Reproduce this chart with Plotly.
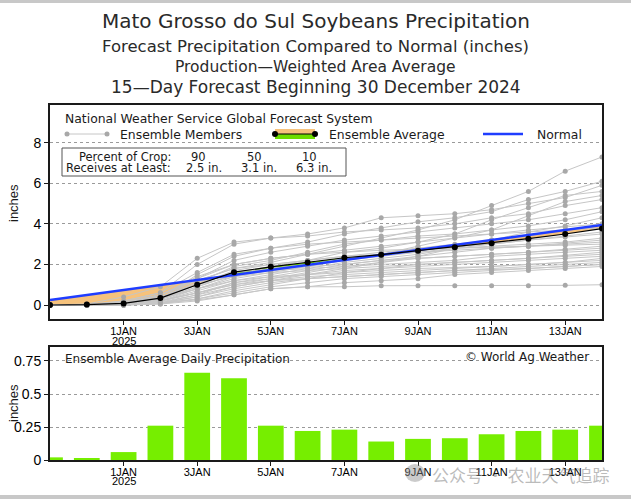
import plotly.graph_objects as go

W, H = 631, 499

# ---------------- data ----------------
day_index = list(range(16))  # 30 Dec 2024 .. 14 Jan 2025
tick_index = [2, 4, 6, 8, 10, 12, 14]
tick_labels = ["1JAN", "3JAN", "5JAN", "7JAN", "9JAN", "11JAN", "13JAN"]
year_label = "2025"

ens_avg = [0.0, 0.02, 0.08, 0.34, 1.0, 1.62, 1.88, 2.1, 2.33, 2.48, 2.68, 2.85, 3.05, 3.27, 3.5, 3.77]
normal = [0.25, 0.50, 0.74, 0.99, 1.23, 1.48, 1.73, 1.97, 2.22, 2.46, 2.71, 2.96, 3.20, 3.45, 3.69, 3.94]
daily = [0.02, 0.01, 0.06, 0.26, 0.66, 0.62, 0.26, 0.22, 0.23, 0.14, 0.16, 0.165, 0.195, 0.22, 0.23, 0.26]

members = [
    [0, 0, 0.1, 0.5, 1.2, 1.8, 2.1, 2.5, 2.9, 3.3, 3.7, 4.2, 4.9, 5.6, 6.6, 7.3],
    [0, 0, 0.05, 0.3, 1.5, 2.4, 2.8, 3.1, 3.5, 3.8, 4.1, 4.3, 4.6, 5.2, 5.6, 6.1],
    [0, 0.02, 0.2, 0.6, 2.0, 3.0, 3.3, 3.5, 3.8, 4.3, 4.4, 4.5, 4.7, 5.0, 5.3, 5.9],
    [0, 0, 0.1, 0.4, 1.0, 1.7, 2.0, 2.2, 2.6, 2.8, 3.1, 3.5, 4.2, 4.8, 5.4, 5.6],
    [0, 0, 0.0, 0.2, 0.8, 1.3, 1.6, 1.9, 2.2, 2.5, 2.9, 3.3, 3.7, 4.4, 5.1, 5.4],
    [0, 0.05, 0.4, 0.9, 2.3, 3.1, 3.3, 3.4, 3.6, 3.7, 3.8, 4.0, 4.3, 4.5, 4.9, 5.2],
    [0, 0, 0.05, 0.3, 1.3, 2.2, 2.6, 2.9, 3.2, 3.4, 3.6, 3.8, 4.0, 4.2, 4.5, 4.8],
    [0, 0, 0.1, 0.35, 1.1, 1.9, 2.2, 2.6, 3.0, 3.2, 3.4, 3.5, 3.7, 3.9, 4.2, 4.6],
    [0, 0, 0.0, 0.1, 0.4, 0.9, 1.2, 1.5, 1.8, 2.1, 2.4, 2.8, 3.2, 3.6, 3.9, 4.3],
    [0, 0, 0.05, 0.5, 1.4, 2.0, 2.3, 2.5, 2.7, 2.9, 3.1, 3.3, 3.5, 3.7, 3.85, 4.0],
    [0, 0, 0.1, 0.3, 0.9, 1.5, 1.8, 2.0, 2.3, 2.5, 2.8, 3.0, 3.2, 3.4, 3.7, 3.9],
    [0, 0.02, 0.2, 0.6, 1.6, 2.5, 2.8, 3.0, 3.1, 3.2, 3.3, 3.4, 3.5, 3.6, 3.7, 3.8],
    [0, 0, 0.0, 0.2, 0.7, 1.2, 1.5, 1.8, 2.1, 2.3, 2.5, 2.8, 3.0, 3.2, 3.4, 3.6],
    [0, 0, 0.05, 0.3, 1.0, 1.6, 1.9, 2.2, 2.4, 2.6, 2.8, 2.9, 3.0, 3.2, 3.35, 3.5],
    [0, 0, 0.1, 0.5, 1.2, 1.8, 2.0, 2.2, 2.4, 2.5, 2.6, 2.8, 2.9, 3.0, 3.1, 3.3],
    [0, 0, 0.0, 0.1, 0.5, 1.1, 1.4, 1.7, 2.0, 2.2, 2.4, 2.6, 2.8, 2.9, 3.05, 3.2],
    [0, 0, 0.05, 0.4, 1.1, 1.6, 1.8, 2.0, 2.2, 2.4, 2.6, 2.7, 2.8, 2.9, 3.0, 3.1],
    [0, 0.02, 0.15, 0.5, 1.3, 2.0, 2.3, 2.5, 2.6, 2.7, 2.75, 2.8, 2.85, 2.9, 2.95, 3.0],
    [0, 0, 0.0, 0.2, 0.6, 1.0, 1.3, 1.6, 1.9, 2.1, 2.3, 2.4, 2.5, 2.6, 2.75, 2.9],
    [0, 0, 0.1, 0.3, 0.8, 1.4, 1.7, 1.9, 2.0, 2.2, 2.3, 2.4, 2.5, 2.6, 2.7, 2.8],
    [0, 0, 0.05, 0.25, 0.9, 1.5, 1.7, 1.8, 1.9, 2.0, 2.1, 2.2, 2.4, 2.5, 2.6, 2.7],
    [0, 0, 0.0, 0.1, 0.3, 0.7, 1.0, 1.3, 1.6, 1.8, 2.0, 2.1, 2.2, 2.3, 2.45, 2.6],
    [0, 0, 0.1, 0.4, 1.0, 1.4, 1.6, 1.7, 1.8, 1.9, 2.0, 2.1, 2.2, 2.3, 2.4, 2.5],
    [0, 0, 0.05, 0.2, 0.6, 1.1, 1.3, 1.5, 1.7, 1.8, 1.9, 2.0, 2.1, 2.2, 2.3, 2.4],
    [0, 0, 0.0, 0.15, 0.5, 0.9, 1.2, 1.4, 1.5, 1.6, 1.7, 1.8, 1.9, 2.0, 2.1, 2.3],
    [0, 0, 0.05, 0.3, 0.8, 1.2, 1.4, 1.5, 1.6, 1.7, 1.8, 1.85, 1.9, 2.0, 2.1, 2.2],
    [0, 0, 0.0, 0.1, 0.4, 0.8, 1.1, 1.3, 1.4, 1.5, 1.6, 1.7, 1.8, 1.9, 2.0, 2.1],
    [0, 0, 0.05, 0.2, 0.6, 1.0, 1.2, 1.3, 1.4, 1.5, 1.6, 1.7, 1.75, 1.8, 1.9, 2.0],
    [0, 0, 0.0, 0.05, 0.3, 0.6, 0.9, 1.1, 1.3, 1.4, 1.5, 1.6, 1.7, 1.8, 1.9, 2.0],
    [0, 0, 0.0, 0.1, 0.25, 0.5, 0.8, 0.9, 1.1, 1.2, 1.3, 1.5, 1.6, 1.7, 1.8, 1.9],
    [0, 0, 0.0, 0.05, 0.2, 0.5, 0.8, 0.9, 0.9, 0.95, 0.95, 0.95, 0.95, 0.95, 0.97, 1.0],
]

crop_pct = ["90", "50", "10"]
crop_amt = ["2.5 in.", "3.1 in.", "6.3 in."]

# ---------------- helpers ----------------
def fx(px):
    return px / W

def fy(py):
    return 1 - py / H

ORANGE = "#f6c27c"
GREEN = "#6ddd00"
BLUE = "#1f3dff"
BAR = "#76ee00"
TXT = "DejaVu Sans"
NUM = "Liberation Sans, Arial, sans-serif"
NARROW = "Liberation Sans Narrow, Liberation Sans, Arial, sans-serif"

fig = go.Figure()

# fill between ensemble average and normal (orange: below normal, green: above)
ox, oy, gx, gy = [], [], [], []
for i in range(len(day_index) - 1):
    x0, x1 = day_index[i], day_index[i + 1]
    a0, a1 = ens_avg[i], ens_avg[i + 1]
    n0, n1 = normal[i], normal[i + 1]
    d0, d1 = a0 - n0, a1 - n1
    if d0 * d1 < 0:
        t = d0 / (d0 - d1)
        xc = x0 + t * (x1 - x0)
        yc = a0 + t * (a1 - a0)
        pieces = [((x0, a0, n0), (xc, yc, yc), d0), ((xc, yc, yc), (x1, a1, n1), d1)]
    else:
        pieces = [((x0, a0, n0), (x1, a1, n1), d0 + d1)]
    for (xa, aa, na), (xb, ab, nb), d in pieces:
        poly_x = [xa, xb, xb, xa, xa, None]
        poly_y = [aa, ab, nb, na, aa, None]
        if d < 0:
            ox += poly_x; oy += poly_y
        else:
            gx += poly_x; gy += poly_y

fig.add_trace(go.Scatter(x=ox, y=oy, fill="toself", fillcolor=ORANGE, mode="none",
                         xaxis="x", yaxis="y", showlegend=False, hoverinfo="skip"))
fig.add_trace(go.Scatter(x=gx, y=gy, fill="toself", fillcolor=GREEN, mode="none",
                         xaxis="x", yaxis="y", showlegend=False, hoverinfo="skip"))

for m in members:
    fig.add_trace(go.Scatter(x=day_index, y=m, mode="lines+markers",
                             line=dict(color="#c6c6c6", width=1),
                             marker=dict(color="#a8a8a8", size=5),
                             xaxis="x", yaxis="y", showlegend=False, cliponaxis=True))

fig.add_trace(go.Scatter(x=day_index, y=normal, mode="lines",
                         line=dict(color=BLUE, width=2.5),
                         xaxis="x", yaxis="y", showlegend=False))
fig.add_trace(go.Scatter(x=day_index, y=ens_avg, mode="lines+markers",
                         line=dict(color="black", width=1.2),
                         marker=dict(color="black", size=6),
                         xaxis="x", yaxis="y", showlegend=False, cliponaxis=True))

fig.add_trace(go.Bar(x=day_index, y=daily, width=0.7, marker=dict(color=BAR, line=dict(width=0)),
                     xaxis="x2", yaxis="y2", showlegend=False))

axis_common = dict(showline=True, linecolor="#1a1a1a", linewidth=2, mirror=True,
                   ticks="outside", ticklen=4, tickcolor="#1a1a1a", automargin=False)

fig.update_layout(
    width=W, height=H, autosize=False,
    margin=dict(l=0, r=0, t=0, b=0),
    paper_bgcolor="white", plot_bgcolor="white",
    showlegend=False,
    xaxis=dict(domain=[fx(50), fx(602)], range=[0, 15], anchor="y",
               tickvals=tick_index, ticktext=tick_labels, showgrid=False, zeroline=False,
               ticklabelstandoff=-3,
               tickfont=dict(family=NARROW, size=11, color="black"), **axis_common),
    yaxis=dict(domain=[fy(319), fy(105)], range=[-0.69, 9.86], anchor="x",
               tickvals=[0, 2, 4, 6, 8], showgrid=True, gridcolor="#9a9a9a", griddash="dot",
               gridwidth=1, zeroline=False,
               tickfont=dict(family=NUM, size=14, color="black"), **axis_common),
    xaxis2=dict(domain=[fx(50), fx(602)], range=[0, 15], anchor="y2",
                tickvals=tick_index, ticktext=tick_labels, showgrid=False, zeroline=False,
                ticklabelstandoff=-3,
                tickfont=dict(family=NARROW, size=11, color="black"), **axis_common),
    yaxis2=dict(domain=[fy(460), fy(347)], range=[0, 0.856], anchor="x2",
                tickvals=[0, 0.25, 0.5, 0.75], ticktext=["0", "0.25", "0.5", "0.75"],
                showgrid=True, gridcolor="#9a9a9a", griddash="dot", gridwidth=1, zeroline=False,
                tickfont=dict(family=NUM, size=14, color="black"), **axis_common),
)

shapes = []
# white panel behind legend rows (hides gridline at 8)
shapes.append(dict(type="rect", xref="paper", yref="paper", x0=fx(51), x1=fx(601), y0=fy(149), y1=fy(106),
                   fillcolor="white", line=dict(width=0), layer="below"))
# screenshot edge bands
shapes.append(dict(type="rect", xref="paper", yref="paper", x0=0, x1=1, y0=fy(3), y1=1,
                   fillcolor="#c8c8c8", line=dict(width=0)))
shapes.append(dict(type="rect", xref="paper", yref="paper", x0=0, x1=1, y0=0, y1=fy(495),
                   fillcolor="#c8c8c8", line=dict(width=0)))
# legend: ensemble members sample
shapes.append(dict(type="line", xref="paper", yref="paper", x0=fx(67), x1=fx(107), y0=fy(134), y1=fy(134),
                   line=dict(color="#c6c6c6", width=1)))
for cx in (67, 107):
    shapes.append(dict(type="circle", xref="paper", yref="paper", x0=fx(cx - 2.5), x1=fx(cx + 2.5),
                       y0=fy(134 + 2.5), y1=fy(134 - 2.5), fillcolor="#a8a8a8", line=dict(width=0)))
# legend: ensemble average sample
shapes.append(dict(type="rect", xref="paper", yref="paper", x0=fx(275), x1=fx(315), y0=fy(134), y1=fy(129),
                   fillcolor=ORANGE, line=dict(width=0)))
shapes.append(dict(type="rect", xref="paper", yref="paper", x0=fx(275), x1=fx(315), y0=fy(139), y1=fy(134),
                   fillcolor=GREEN, line=dict(width=0)))
shapes.append(dict(type="line", xref="paper", yref="paper", x0=fx(275), x1=fx(315), y0=fy(134), y1=fy(134),
                   line=dict(color="black", width=1.2)))
for cx in (275, 315):
    shapes.append(dict(type="circle", xref="paper", yref="paper", x0=fx(cx - 3), x1=fx(cx + 3),
                       y0=fy(134 + 3), y1=fy(134 - 3), fillcolor="black", line=dict(width=0)))
# legend: normal sample
shapes.append(dict(type="line", xref="paper", yref="paper", x0=fx(483), x1=fx(523), y0=fy(134), y1=fy(134),
                   line=dict(color=BLUE, width=2.5)))
# percent of crop box
shapes.append(dict(type="rect", xref="paper", yref="paper", x0=fx(62), x1=fx(346), y0=fy(176), y1=fy(148),
                   fillcolor="white", line=dict(color="#555555", width=1)))
# watermark logo
shapes.append(dict(type="circle", xref="paper", yref="paper", x0=fx(405), x1=fx(425), y0=fy(482), y1=fy(464),
                   fillcolor="rgba(140,140,140,0.45)", line=dict(width=0)))
fig.update_layout(shapes=shapes)

ann = []
def text(s, px, py, size, xanchor="center", family=TXT, color="#1a1a1a", angle=0):
    ann.append(dict(text=s, x=fx(px), y=fy(py), xref="paper", yref="paper", showarrow=False,
                    xanchor=xanchor, yanchor="middle", textangle=angle,
                    font=dict(family=family, size=size, color=color)))

text("Mato Grosso do Sul Soybeans Precipitation", 315.5, 21, 20, color="#2a2a2a")
text("Forecast Precipitation Compared to Normal (inches)", 315.5, 47, 16.5, color="#2a2a2a")
text("Production\u2014Weighted Area Average", 315.5, 67, 15.5, color="#2a2a2a")
text("15\u2014Day Forecast Beginning 30 December 2024", 315.5, 87, 17, color="#2a2a2a")

text("National Weather Service Global Forecast System", 63, 118, 12.4, "left")
text("Ensemble Members", 118, 134, 12.4, "left")
text("Ensemble Average", 327, 134, 12.4, "left")
text("Normal", 535, 134, 12.4, "left")

text("Percent of Crop:", 173, 157, 11.5, "right")
text("Receives at Least:", 173, 168.5, 11.5, "right")
for px, p, a in zip((199, 254, 309), crop_pct, crop_amt):
    text(p, px, 157, 11.5)
    text(a, px + 5, 168.5, 11.5)

text("inches", 13, 203, 13, angle=-90, family=NUM)
text("inches", 13, 403, 13, angle=-90, family=NUM)

text("Ensemble Average Daily Precipitation", 63, 359, 12, "left")
text("\u00a9 World Ag Weather", 591, 357, 12, "right")

# year label under the 1 JAN tick on both panels
for xa, py in (("x", 340.5), ("x2", 481)):
    ann.append(dict(text=year_label, x=tick_index[0], xref=xa, y=fy(py), yref="paper",
                    showarrow=False, xanchor="center", yanchor="middle",
                    font=dict(family=NARROW, size=11, color="black")))

text("公众号 · 农业天气追踪", 521, 474, 17, family="Noto Sans CJK SC", color="rgba(120,120,120,0.5)")

fig.update_layout(annotations=ann)

fig.write_html("out.html", config={"displayModeBar": False},
               post_script="document.body.style.margin='0';document.body.style.overflow='hidden';")
